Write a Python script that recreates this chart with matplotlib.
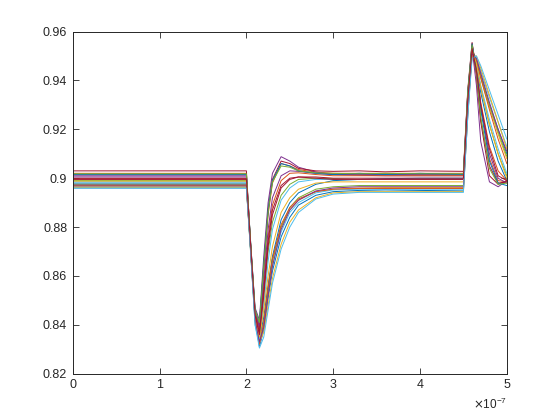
import matplotlib
matplotlib.use("Agg")
import matplotlib.pyplot as plt
from matplotlib.ticker import FuncFormatter

plt.rcParams["font.family"] = ["Liberation Sans", "DejaVu Sans"]

# time axis in units of 1e-7 s
t = [0, 2.0, 2.05, 2.1, 2.15, 2.2, 2.25, 2.3, 2.4, 2.5, 2.6, 2.8, 3.0,
     3.3, 3.6, 4.0, 4.5, 4.55, 4.6, 4.65, 4.7, 4.8, 4.9, 5.0]

trace_01 = [0.8960, 0.8960, 0.8700, 0.8420, 0.8310, 0.8380, 0.8510, 0.8620, 0.8760, 0.8840, 0.8890, 0.8930,
            0.8945, 0.8950, 0.8952, 0.8950, 0.8948, 0.9250, 0.9520, 0.9490, 0.9420, 0.9300, 0.9200, 0.9100]
trace_02 = [0.9020, 0.9020, 0.8720, 0.8460, 0.8400, 0.8620, 0.8850, 0.8980, 0.9060, 0.9050, 0.9035, 0.9025,
            0.9020, 0.9020, 0.9020, 0.9020, 0.9020, 0.9350, 0.9550, 0.9450, 0.9300, 0.9080, 0.8990, 0.8985]
trace_03 = [0.8970, 0.8970, 0.8710, 0.8440, 0.8340, 0.8420, 0.8560, 0.8670, 0.8800, 0.8870, 0.8910, 0.8945,
            0.8955, 0.8960, 0.8962, 0.8962, 0.8962, 0.9280, 0.9510, 0.9480, 0.9410, 0.9290, 0.9180, 0.9080]
trace_04 = [0.9010, 0.9010, 0.8730, 0.8470, 0.8420, 0.8680, 0.8900, 0.9020, 0.9088, 0.9070, 0.9045, 0.9025,
            0.9015, 0.9012, 0.9010, 0.9010, 0.9010, 0.9330, 0.9530, 0.9380, 0.9150, 0.8985, 0.8965, 0.8990]
trace_05 = [0.8990, 0.8990, 0.8710, 0.8430, 0.8360, 0.8520, 0.8700, 0.8820, 0.8930, 0.8975, 0.8995, 0.9000,
            0.8998, 0.8995, 0.8995, 0.8995, 0.8995, 0.9300, 0.9520, 0.9470, 0.9370, 0.9220, 0.9100, 0.9010]
trace_06 = [0.8965, 0.8965, 0.8690, 0.8400, 0.8320, 0.8390, 0.8530, 0.8640, 0.8780, 0.8860, 0.8900, 0.8940,
            0.8952, 0.8955, 0.8955, 0.8955, 0.8955, 0.9270, 0.9500, 0.9490, 0.9440, 0.9330, 0.9230, 0.9130]
trace_07 = [0.9030, 0.9030, 0.8720, 0.8450, 0.8390, 0.8640, 0.8870, 0.8995, 0.9070, 0.9060, 0.9040, 0.9030,
            0.9028, 0.9030, 0.9026, 0.9030, 0.9028, 0.9360, 0.9555, 0.9430, 0.9230, 0.9010, 0.8975, 0.8990]
trace_08 = [0.8980, 0.8980, 0.8700, 0.8420, 0.8350, 0.8430, 0.8560, 0.8680, 0.8830, 0.8900, 0.8940, 0.8975,
            0.8990, 0.8995, 0.8998, 0.9000, 0.9000, 0.9310, 0.9530, 0.9460, 0.9350, 0.9190, 0.9070, 0.8990]
trace_09 = [0.9000, 0.9000, 0.8720, 0.8450, 0.8380, 0.8560, 0.8760, 0.8890, 0.8990, 0.9020, 0.9022, 0.9015,
            0.9010, 0.9010, 0.9010, 0.9010, 0.9010, 0.9340, 0.9540, 0.9450, 0.9310, 0.9130, 0.9030, 0.8990]
trace_10 = [0.8962, 0.8962, 0.8690, 0.8410, 0.8330, 0.8370, 0.8480, 0.8590, 0.8730, 0.8820, 0.8870, 0.8920,
            0.8940, 0.8945, 0.8945, 0.8945, 0.8945, 0.9260, 0.9500, 0.9500, 0.9450, 0.9340, 0.9230, 0.9120]
trace_11 = [0.9005, 0.9005, 0.8720, 0.8450, 0.8390, 0.8580, 0.8790, 0.8920, 0.9010, 0.9030, 0.9028, 0.9020,
            0.9015, 0.9015, 0.9015, 0.9015, 0.9015, 0.9340, 0.9540, 0.9440, 0.9290, 0.9100, 0.9000, 0.8980]
trace_12 = [0.8975, 0.8975, 0.8700, 0.8430, 0.8330, 0.8400, 0.8540, 0.8660, 0.8800, 0.8880, 0.8920, 0.8955,
            0.8965, 0.8970, 0.8970, 0.8970, 0.8970, 0.9290, 0.9510, 0.9480, 0.9420, 0.9300, 0.9190, 0.9090]
trace_13 = [0.8985, 0.8985, 0.8700, 0.8420, 0.8340, 0.8480, 0.8660, 0.8790, 0.8910, 0.8960, 0.8985, 0.8995,
            0.8995, 0.8995, 0.8995, 0.8995, 0.8995, 0.9300, 0.9520, 0.9470, 0.9380, 0.9240, 0.9120, 0.9020]
trace_14 = [0.8995, 0.8995, 0.8710, 0.8440, 0.8370, 0.8540, 0.8740, 0.8870, 0.8970, 0.9000, 0.9005, 0.9000,
            0.8995, 0.8995, 0.8995, 0.8995, 0.8995, 0.9320, 0.9540, 0.9420, 0.9240, 0.9050, 0.8980, 0.8985]
trace_15 = [0.9015, 0.9015, 0.8730, 0.8460, 0.8410, 0.8650, 0.8870, 0.8990, 0.9060, 0.9050, 0.9030, 0.9020,
            0.9015, 0.9020, 0.9015, 0.9020, 0.9015, 0.9350, 0.9550, 0.9440, 0.9280, 0.9070, 0.8980, 0.8970]
trace_16 = [0.8968, 0.8968, 0.8700, 0.8430, 0.8320, 0.8410, 0.8550, 0.8670, 0.8810, 0.8880, 0.8915, 0.8945,
            0.8955, 0.8958, 0.8958, 0.8958, 0.8958, 0.9280, 0.9510, 0.9480, 0.9410, 0.9280, 0.9160, 0.9060]
trace_17 = [0.8988, 0.8988, 0.8710, 0.8430, 0.8350, 0.8460, 0.8600, 0.8720, 0.8860, 0.8920, 0.8955, 0.8980,
            0.8985, 0.8985, 0.8985, 0.8985, 0.8985, 0.9300, 0.9520, 0.9470, 0.9370, 0.9220, 0.9100, 0.9000]
trace_18 = [0.8972, 0.8972, 0.8700, 0.8420, 0.8330, 0.8390, 0.8520, 0.8640, 0.8790, 0.8870, 0.8910, 0.8948,
            0.8960, 0.8965, 0.8965, 0.8965, 0.8965, 0.9280, 0.9510, 0.9490, 0.9430, 0.9310, 0.9200, 0.9110]
trace_19 = [0.9018, 0.9018, 0.8730, 0.8460, 0.8410, 0.8640, 0.8860, 0.8985, 0.9050, 0.9045, 0.9030, 0.9022,
            0.9020, 0.9018, 0.9020, 0.9018, 0.9018, 0.9350, 0.9545, 0.9430, 0.9250, 0.9040, 0.8975, 0.8980]
trace_20 = [0.8960, 0.8960, 0.8690, 0.8400, 0.8305, 0.8350, 0.8460, 0.8570, 0.8710, 0.8800, 0.8860, 0.8915,
            0.8935, 0.8942, 0.8942, 0.8942, 0.8942, 0.9250, 0.9490, 0.9500, 0.9460, 0.9360, 0.9260, 0.9160]
trace_21 = [0.8998, 0.8998, 0.8720, 0.8440, 0.8360, 0.8520, 0.8720, 0.8850, 0.8960, 0.8995, 0.9005, 0.9005,
            0.9000, 0.9000, 0.9000, 0.9000, 0.9000, 0.9320, 0.9530, 0.9440, 0.9300, 0.9120, 0.9010, 0.8990]

traces = [trace_01, trace_02, trace_03, trace_04, trace_05, trace_06, trace_07,
          trace_08, trace_09, trace_10, trace_11, trace_12, trace_13, trace_14,
          trace_15, trace_16, trace_17, trace_18, trace_19, trace_20, trace_21]

x_ticks = [0, 1, 2, 3, 4, 5]
y_ticks = [0.82, 0.84, 0.86, 0.88, 0.90, 0.92, 0.94, 0.96]

# MATLAB default line order
colors = ["#0072BD", "#D95319", "#EDB120", "#7E2F8E", "#77AC30", "#4DBEEE", "#A2142F"]
axis_grey = (0.15, 0.15, 0.15)

fig = plt.figure(figsize=(5.6, 4.2), dpi=100)
ax = fig.add_axes([0.13, 0.11, 0.775, 0.815])

for i, y in enumerate(traces):
    ax.plot(t, y, color=colors[i % len(colors)], lw=0.7)

ax.set_xlim(0, 5)
ax.set_ylim(0.82, 0.96)
ax.set_xticks(x_ticks)
ax.set_yticks(y_ticks)
ax.yaxis.set_major_formatter(FuncFormatter(lambda v, p: f"{v:g}"))

for side in ax.spines.values():
    side.set_color(axis_grey)
    side.set_linewidth(0.7)
ax.tick_params(direction="in", length=4, width=0.6, top=True, right=True,
               colors=axis_grey, labelsize=9, labelcolor=axis_grey, pad=4)

ax.text(1.0, -0.088, r"$\times\mathregular{10^{-7}}$", transform=ax.transAxes,
        ha="right", va="center", fontsize=8.5, color=axis_grey)

fig.savefig("out.png", dpi=100)
